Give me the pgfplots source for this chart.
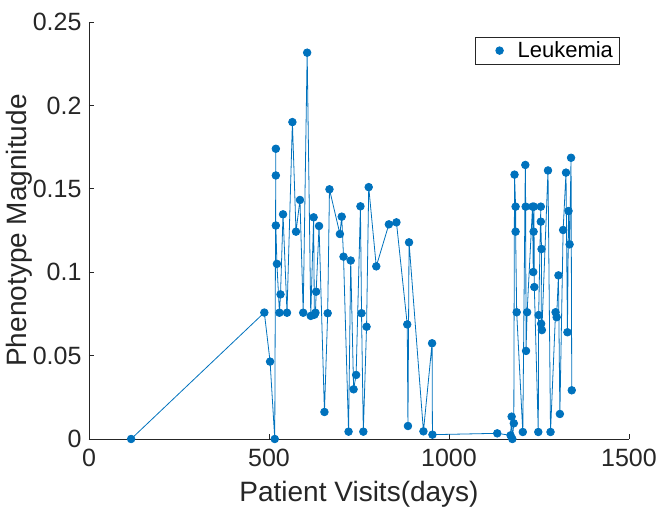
\documentclass[border=0pt]{standalone}
\usepackage{fontspec}
\setmainfont{Liberation Sans}
\usepackage{pgfplots}
\pgfplotsset{compat=1.18}
\definecolor{mblue}{RGB}{0,114,189}
\definecolor{mgray}{RGB}{38,38,38}
\begin{document}
\begin{tikzpicture}
\begin{axis}[
    scale only axis,
    width=540pt, height=417pt,
    xmin=0, xmax=1500, ymin=0, ymax=0.25,
    axis lines=left,
    axis line style={mgray, line width=0.6pt, -},
    tick align=inside,
    tick style={mgray, line width=0.6pt},
    major tick length=5pt,
    xtick={0,500,1000,1500},
    ytick={0,0.05,0.1,0.15,0.2,0.25},
    yticklabels={0,0.05,0.1,0.15,0.2,0.25},
    scaled x ticks=false,
    /pgf/number format/1000 sep={},
    /pgf/number format/assume math mode=true,
    ticklabel style={font=\fontsize{25}{28}\selectfont, text=mgray},
    xticklabel style={yshift=-7pt},
    yticklabel style={xshift=-4pt},
    xlabel={Patient Visits(days)},
    ylabel={Phenotype Magnitude},
    label style={font=\fontsize{28}{32}\selectfont, text=mgray},
    xlabel style={yshift=-7pt},
    ylabel style={yshift=-6pt},
    legend style={at={(0.982,0.965)}, anchor=north east, draw=mgray,
        line width=0.6pt, font=\fontsize{22}{24}\selectfont,
        inner xsep=4pt, inner ysep=3pt},
    legend cell align=left,
    legend image code/.code={\path[draw=none] (0,0) -- (36pt,0);
        \path[draw=mblue, fill=mblue] (20pt,0) circle (3.8pt);},
]
\addplot[mblue, line width=0.8pt, mark=*, mark size=3.8pt,
    mark options={fill=mblue, draw=mblue}] coordinates {
(117,0) (487,0.0758) (503,0.0464) (516,0)
(519,0.174) (519,0.158) (519,0.128) (522,0.105)
(529,0.0757) (532,0.0867) (539,0.1347) (550,0.0757)
(565,0.190) (575,0.1243) (586,0.1433) (595,0.0757)
(606,0.2316) (616,0.0738) (624,0.1329) (626,0.0745)
(629,0.0757) (631,0.0883) (639,0.1277) (654,0.0162)
(663,0.0754) (668,0.1497) (697,0.1229) (702,0.1333)
(707,0.1093) (721,0.0044) (727,0.107) (735,0.0298)
(742,0.0384) (754,0.1395) (757,0.0754) (762,0.0044)
(771,0.0673) (777,0.151) (798,0.1035) (833,0.1287)
(854,0.1299) (884,0.0687) (886,0.0078) (889,0.1179)
(929,0.0046) (953,0.0574) (954,0.0026) (1134,0.0034)
(1171,0.0022) (1174,0.0134) (1176,0) (1180,0.0094)
(1182,0.1585) (1185,0.1393) (1185,0.1243) (1188,0.076)
(1205,0.0042) (1212,0.1643) (1213,0.1393) (1214,0.0528)
(1217,0.076) (1232,0.1393) (1234,0.1001) (1235,0.1243)
(1236,0.1393) (1237,0.0911) (1248,0.0042) (1249,0.0743)
(1255,0.1393) (1255,0.1303) (1257,0.1139) (1256,0.0691)
(1258,0.0653) (1275,0.161) (1282,0.0042) (1296,0.076)
(1299,0.073) (1304,0.0981) (1308,0.015) (1317,0.1253)
(1325,0.1597) (1329,0.064) (1332,0.1367) (1335,0.1167)
(1339,0.1686) (1341,0.0292)
};
\addlegendentry{Leukemia}
\end{axis}
\pgfresetboundingbox
\path (current axis.south west) ++(-89pt,-78pt) rectangle ([shift={(35pt,22pt)}]current axis.north east);
\end{tikzpicture}
\end{document}
